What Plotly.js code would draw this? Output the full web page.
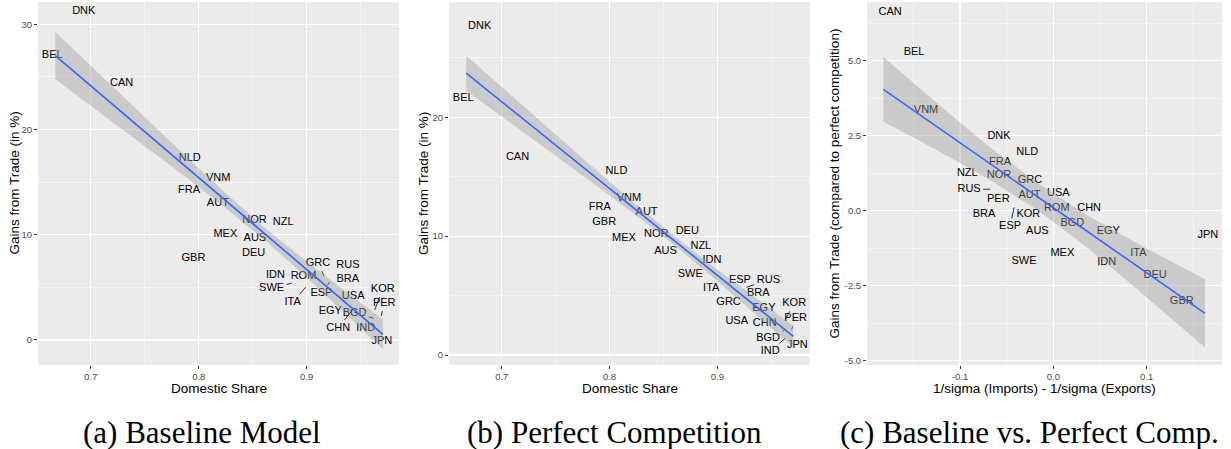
<!DOCTYPE html>
<html>
<head>
<meta charset="utf-8">
<script src="https://cdn.plot.ly/plotly-3.0.1.min.js"></script>
<style>
  html, body { margin: 0; padding: 0; background: #ffffff; }
  #chart { width: 1231px; height: 449px; }
</style>
</head>
<body>
<div id="chart"></div>
<script>
// ---- data -------------------------------------------------------------
const countries = ['DNK','BEL','CAN','NLD','VNM','FRA','AUT','GBR','MEX','NOR',
                   'DEU','AUS','NZL','IDN','SWE','ROM','ITA','GRC','ESP','RUS',
                   'BRA','USA','EGY','CHN','BGD','KOR','PER','IND','JPN'];

// share of domestic absorption spent on domestic goods
const domesticShare = [0.686,0.667,0.722,0.799,0.818,0.791,0.826,0.795,0.819,0.847,
                       0.861,0.852,0.881,0.883,0.886,0.897,0.899,0.916,0.921,0.927,
                       0.938,0.931,0.933,0.944,0.962,0.963,0.969,0.963,0.9705];

// gains from trade (in %), baseline model
const gainsBaseline = [31.2,27.1,24.4,17.27,15.37,14.26,12.99,7.73,10.08,11.41,
                       8.24,9.67,11.15,6.18,5.39,6.02,5.01,6.08,5.48,7.13,
                       5.77,4.12,2.69,3.05,2.06,2.85,2.28,1.11,-0.16];

// gains from trade (in %), perfect competition
const gainsPerfect = [27.63,21.61,16.64,15.49,13.19,12.43,12.01,11.14,9.82,10.16,
                      10.38,8.70,9.18,8.0,6.82,null,5.61,4.43,6.31,5.70,
                      5.19,2.80,3.93,2.67,2.05,3.0,2.16,1.41,0.84];

// 1/sigma (imports) - 1/sigma (exports)
const sigmaDiff = [-0.0582,-0.1493,-0.1824,-0.0279,-0.1364,-0.0571,-0.0257,0.1376,0.0096,-0.0582,
                   0.109,-0.0171,-0.0922,0.0572,-0.0314,0.0036,0.0911,-0.025,-0.0421,-0.0678,
                   -0.0743,0.0054,0.0589,0.0383,0.0204,-0.0268,-0.059,null,0.1634];

// gains from trade, baseline compared to perfect competition
const gainsVsPerfect = [2.49,5.30,6.63,1.95,3.36,1.61,0.52,-3.01,-1.40,1.17,
                        -2.14,-0.67,1.25,-1.73,-1.68,0.08,-1.42,1.02,0.11,0.72,
                        -0.11,0.58,-0.67,0.08,-0.40,-0.11,0.38,null,-0.81];

// linear fits with 95% confidence bands
const fitShareX   = [0.667, 0.70, 0.74, 0.78, 0.82, 0.86, 0.90, 0.94, 0.9705];
const fitBaseline = [27.03, 24.15, 20.66, 17.17, 13.68, 10.18, 6.69, 3.20, 0.54];
const fitBaseLow  = [24.78, 22.26, 19.19, 16.10, 12.94, 9.59, 5.94, 2.11, -0.86];
const fitBaseHigh = [29.28, 26.04, 22.13, 18.24, 14.42, 10.77, 7.44, 4.29, 1.94];
const fitPerfect  = [23.71, 21.30, 18.38, 15.46, 12.55, 9.63, 6.71, 3.79, 1.56];
const fitPerfLow  = [22.25, 20.07, 17.42, 14.76, 12.07, 9.25, 6.22, 3.08, 0.65];
const fitPerfHigh = [25.17, 22.53, 19.34, 16.16, 13.03, 10.01, 7.20, 4.50, 2.47];
const fitSigmaX   = [-0.1822, -0.15, -0.11, -0.07, -0.0155, 0.03, 0.07, 0.11, 0.1625];
const fitDiff     = [4.05, 3.35, 2.49, 1.62, 0.44, -0.55, -1.42, -2.28, -3.42];
const fitDiffLow  = [2.97, 2.44, 1.77, 1.07, -0.01, -1.07, -2.09, -3.14, -4.56];
const fitDiffHigh = [5.13, 4.26, 3.20, 2.17, 0.89, -0.03, -0.74, -1.42, -2.28];

// tick labels
const shareTicks = [0.7, 0.8, 0.9];
const shareTickText = ['0.7', '0.8', '0.9'];
const gainsTicksA = [0, 10, 20, 30];
const gainsTickTextA = ['0', '10', '20', '30'];
const gainsTicksB = [0, 10, 20];
const gainsTickTextB = ['0', '10', '20'];
const sigmaTicks = [-0.1, 0, 0.1];
const sigmaTickText = ['-0.1', '0.0', '0.1'];
const diffTicks = [-5, -2.5, 0, 2.5, 5];
const diffTickText = ['-5.0', '-2.5', '0.0', '2.5', '5.0'];

// ---- label placement (repelled labels, pixel offsets; third entry = draw leader) ----
const labelShiftA = {DNK:[8,0], BEL:[-3,0], CAN:[7,0], NLD:[-8,0], AUT:[-9,0], MEX:[6,0],
  NOR:[5,0], DEU:[-11,0], NZL:[-3,0], IDN:[-13,0], SWE:[-20,5,1], ITA:[-13,15,1],
  GRC:[-6,-13,1], ESP:[-8,11,1], RUS:[12,0], USA:[13,0], EGY:[-12,0], CHN:[-16,20,1],
  BGD:[-19,-5,1], KOR:[8,-21,1], PER:[3,-13,1], IND:[-9,0], JPN:[-1,0]};
const labelShiftB = {DNK:[-7,0], BEL:[-3,0], CAN:[-8,0], NLD:[8,0], AUT:[9,0], MEX:[-6,0],
  NOR:[-4,0], DEU:[12,0], NZL:[4,0], IDN:[13,0], SWE:[-12,0], ITA:[-5,0], GRC:[-6,0],
  RUS:[22,-7,1], USA:[-14,0], EGY:[11,0], BGD:[-16,8,1], KOR:[9,-16,1], PER:[4,-11,1],
  IND:[-15,13,1], JPN:[4,0]};
const labelShiftC = {CAN:[7,0], RUS:[-21,0,1], ESP:[-4,19,1], JPN:[2,0]};

// ---- geometry & style ---------------------------------------------------
const W = 1231, H = 449, TOP = 2, BOTTOM = 365;
const PANELS = [
  {xPx:[38, 399],   xRange:[0.651, 0.9855],   yRange:[-2.38, 32.12]},
  {xPx:[449, 810],  xRange:[0.651, 0.986],    yRange:[-0.84, 29.7]},
  {xPx:[867, 1222], xRange:[-0.1997, 0.1807], yRange:[-5.14, 6.96]}
];
const LABEL_FONT = 'Liberation Sans, Arial, sans-serif';
const LABEL_SIZE = 11;

const measureCtx = document.createElement('canvas').getContext('2d');
measureCtx.font = LABEL_SIZE + 'px "Liberation Sans"';

function toPx(p, x, y) {
  const px = p.xPx[0] + (x - p.xRange[0]) / (p.xRange[1] - p.xRange[0]) * (p.xPx[1] - p.xPx[0]);
  const py = BOTTOM - (y - p.yRange[0]) / (p.yRange[1] - p.yRange[0]) * (BOTTOM - TOP);
  return [px, py];
}
function fromPx(p, px, py) {
  const x = p.xRange[0] + (px - p.xPx[0]) / (p.xPx[1] - p.xPx[0]) * (p.xRange[1] - p.xRange[0]);
  const y = p.yRange[0] + (BOTTOM - py) / (BOTTOM - TOP) * (p.yRange[1] - p.yRange[0]);
  return [x, y];
}

function panelTraces(idx, xs, ys, shifts, fx, fy, flo, fhi) {
  const p = PANELS[idx];
  const xa = idx === 0 ? 'x' : 'x' + (idx + 1);
  const ya = idx === 0 ? 'y' : 'y' + (idx + 1);
  const tx = [], ty = [], tt = [], sx = [], sy = [];
  countries.forEach((c, i) => {
    if (xs[i] == null || ys[i] == null) return;
    const [ppx, ppy] = toPx(p, xs[i], ys[i]);
    const sh = shifts[c] || [0, 0, 0];
    const lx = ppx + sh[0], ly = ppy + sh[1];
    const [dx, dy] = fromPx(p, lx, ly);
    tx.push(dx); ty.push(dy); tt.push(c);
    if (sh[2]) {
      // leader from the data point to the edge of the (padded) label box
      const hw = measureCtx.measureText(c).width / 2 + 2.5;
      const hh = LABEL_SIZE / 2 + 2.5;
      const vx = ppx - lx, vy = ppy - ly;
      const tEdge = Math.min(vx !== 0 ? hw / Math.abs(vx) : Infinity,
                             vy !== 0 ? hh / Math.abs(vy) : Infinity);
      if (tEdge < 1) {
        const e = fromPx(p, lx + vx * tEdge, ly + vy * tEdge);
        sx.push(xs[i], e[0], null); sy.push(ys[i], e[1], null);
      }
    }
  });
  return [
    {type:'scatter', mode:'lines', x:sx, y:sy, xaxis:xa, yaxis:ya,
     line:{color:'#1a1a1a', width:0.9}, hoverinfo:'skip', showlegend:false},
    {type:'scatter', mode:'text', x:tx, y:ty, text:tt, xaxis:xa, yaxis:ya,
     textposition:'middle center', cliponaxis:false,
     textfont:{family:LABEL_FONT, size:LABEL_SIZE, color:'#000000'},
     hoverinfo:'skip', showlegend:false},
    {type:'scatter', mode:'lines', xaxis:xa, yaxis:ya,
     x: fx.concat(fx.slice().reverse()),
     y: fhi.concat(flo.slice().reverse()),
     fill:'toself', fillcolor:'rgba(153,153,153,0.4)', line:{width:0},
     hoverinfo:'skip', showlegend:false},
    {type:'scatter', mode:'lines', x:fx, y:fy, xaxis:xa, yaxis:ya,
     line:{color:'#3366FF', width:1.6}, hoverinfo:'skip', showlegend:false}
  ];
}

const traces = [].concat(
  panelTraces(0, domesticShare, gainsBaseline, labelShiftA, fitShareX, fitBaseline, fitBaseLow, fitBaseHigh),
  panelTraces(1, domesticShare, gainsPerfect, labelShiftB, fitShareX, fitPerfect, fitPerfLow, fitPerfHigh),
  panelTraces(2, sigmaDiff, gainsVsPerfect, labelShiftC, fitSigmaX, fitDiff, fitDiffLow, fitDiffHigh)
);

const tickFont = {family: LABEL_FONT, size: 9.5, color: '#4D4D4D'};
function axis(p, which, vals, text, minorVals, anchor) {
  const dom = which === 'x'
    ? [p.xPx[0] / W, p.xPx[1] / W]
    : [1 - BOTTOM / H, 1 - TOP / H];
  return {
    domain: dom, anchor: anchor,
    range: which === 'x' ? p.xRange : p.yRange,
    tickmode: 'array', tickvals: vals, ticktext: text,
    ticks: 'outside', ticklen: 3, tickwidth: 1, tickcolor: '#333333',
    tickfont: tickFont,
    showgrid: true, gridcolor: '#ffffff', gridwidth: 1.1,
    minor: {tickmode: 'array', tickvals: minorVals, showgrid: true,
            gridcolor: '#ffffff', gridwidth: 0.5, ticks: ''},
    zeroline: false, showline: false, fixedrange: true
  };
}

const titleFont = {family: LABEL_FONT, size: 13.5, color: '#000000'};
function note(text, px, py, opts) {
  return Object.assign({text: text, xref: 'paper', yref: 'paper',
    x: px / W, y: 1 - py / H, xanchor: 'center', yanchor: 'middle',
    showarrow: false, font: titleFont}, opts || {});
}
const captionFont = {family: 'Liberation Serif, Times New Roman, serif', size: 31, color: '#000000'};

const layout = {
  width: W, height: H,
  margin: {l: 0, r: 0, t: 0, b: 0},
  paper_bgcolor: '#ffffff', plot_bgcolor: '#EBEBEB',
  showlegend: false,
  xaxis:  axis(PANELS[0], 'x', shareTicks, shareTickText, [0.75, 0.85, 0.95], 'y'),
  yaxis:  axis(PANELS[0], 'y', gainsTicksA, gainsTickTextA, [5, 15, 25], 'x'),
  xaxis2: axis(PANELS[1], 'x', shareTicks, shareTickText, [0.75, 0.85, 0.95], 'y2'),
  yaxis2: axis(PANELS[1], 'y', gainsTicksB, gainsTickTextB, [5, 15, 25], 'x2'),
  xaxis3: axis(PANELS[2], 'x', sigmaTicks, sigmaTickText, [-0.15, -0.05, 0.05, 0.15], 'y3'),
  yaxis3: axis(PANELS[2], 'y', diffTicks, diffTickText, [-3.75, -1.25, 1.25, 3.75, 6.25], 'x3'),
  annotations: [
    note('Domestic Share', 218.5, 388),
    note('Gains from Trade (in %)', 14, 183.5, {textangle: -90}),
    note('Domestic Share', 629.5, 388),
    note('Gains from Trade (in %)', 423.5, 183.5, {textangle: -90}),
    note('1/sigma (Imports) - 1/sigma (Exports)', 1044.5, 388),
    note('Gains from Trade (compared to perfect competition)', 834, 183.5, {textangle: -90}),
    note('(a) Baseline Model', 202, 432, {font: captionFont}),
    note('(b) Perfect Competition', 614.5, 432, {font: captionFont}),
    note('(c) Baseline vs. Perfect Comp.', 1029, 432, {font: captionFont})
  ]
};

Plotly.newPlot('chart', traces, layout, {displayModeBar: false, staticPlot: true});
</script>
</body>
</html>
